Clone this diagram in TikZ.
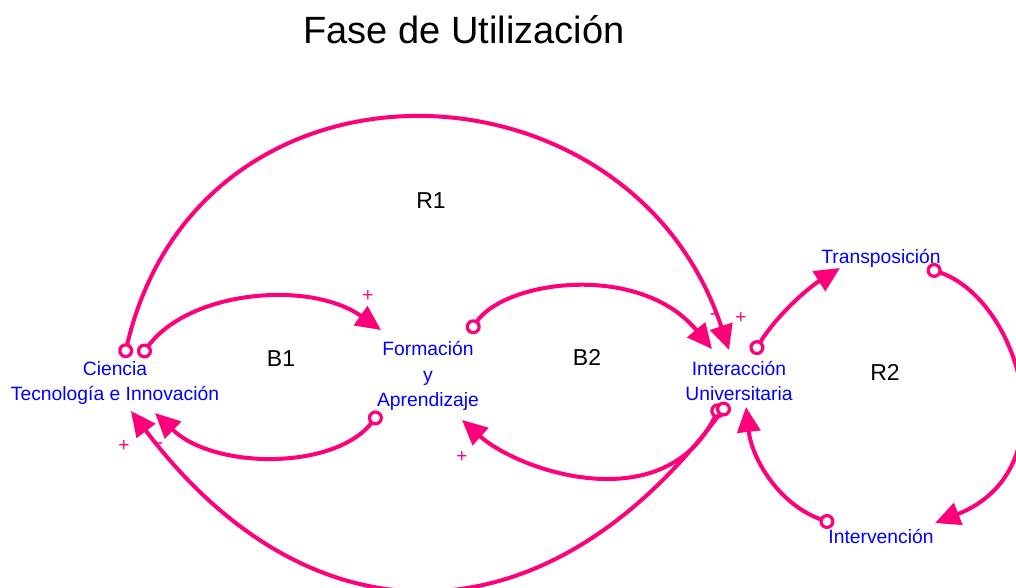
\documentclass[tikz,border=0pt]{standalone}
\usepackage{fontspec}
\setmainfont{Liberation Sans}
\usetikzlibrary{arrows.meta}
\definecolor{rosa}{RGB}{255,0,122}
\definecolor{azul}{RGB}{0,0,255}

\begin{document}
\begin{tikzpicture}[x=1pt,y=-1pt]
	\tikzstyle{every node}+=[inner sep=0pt]
	\tikzstyle{var}=[text=azul,align=center,font=\fontsize{19.3}{25.5}\selectfont]
	\tikzstyle{signo}=[text=rosa,font=\fontsize{19}{19}\selectfont]
	\tikzstyle{bucle}=[font=\fontsize{23}{23}\selectfont]
	\tikzstyle{lazo}=[rosa,line width=4pt,{Circle[open,fill=white,length=15pt,width=15pt,line width=3.2pt]}-{Triangle[length=25pt,width=23pt]}]
	\useasboundingbox (0,0) rectangle (1016,588);
	\node (titulo) at (464,30) {\fontsize{38}{38}\selectfont Fase de Utilización};
	\node [var] (cti) at (115,383) {Ciencia\\Tecnología e Innovación};
	\node [var] (fa) at (428,376) {Formación\\y\\Aprendizaje};
	\node [var] (iu) at (739,381) {Interacción\\Universitaria};
	\node [var] (tr) at (881,258) {Transposición};
	\node [var] (iv) at (881,536) {Intervención};
	\node [bucle] (b1) at (281,359) {B1};
	\node [bucle] (b2) at (587,357) {B2};
	\node [bucle] (r1) at (431,201) {R1};
	\node [bucle] (r2) at (885,372) {R2};
	\draw [lazo] ([shift={(25,-26)}]cti.center) .. controls (190,290) and (310,280) .. ([shift={(-47,-46)}]fa.center);
	\draw [lazo] ([shift={(9,-25)}]cti.center) .. controls (200,35) and (630,50) .. ([shift={(-10,-31)}]iu.center);
	\draw [lazo] ([shift={(41,-43)}]fa.center) .. controls (505,280) and (640,262) .. ([shift={(-27,-32)}]iu.center);
	\draw [lazo] ([shift={(-48,36)}]fa.center) .. controls (335,470) and (215,470) .. ([shift={(40,30)}]cti.center);
	\draw [lazo] ([shift={(-18,23)}]iu.center) .. controls (665,520) and (520,472) .. ([shift={(34,44)}]fa.center);
	\draw [lazo] ([shift={(-11,22)}]iu.center) .. controls (545,648) and (310,648) .. ([shift={(16,28)}]cti.center);
	\draw [lazo] ([shift={(14,-27)}]iu.center) .. controls (775,318) and (805,290) .. ([shift={(-41,10)}]tr.center);
	\draw [lazo] ([shift={(46,10)}]tr.center) .. controls (1020,300) and (1070,470) .. ([shift={(54,-13)}]iv.center);
	\draw [lazo] ([shift={(-47,-12)}]iv.center) .. controls (780,505) and (752,460) .. ([shift={(7,26)}]iu.center);
	\node [signo] (s1) at (368,296) {+};
	\node [signo] (s2) at (713,317) {-};
	\node [signo] (s3) at (741,318) {+};
	\node [signo] (s4) at (124,446) {+};
	\node [signo] (s5) at (160,446) {-};
	\node [signo] (s6) at (462,457) {+};
\end{tikzpicture}
\end{document}
